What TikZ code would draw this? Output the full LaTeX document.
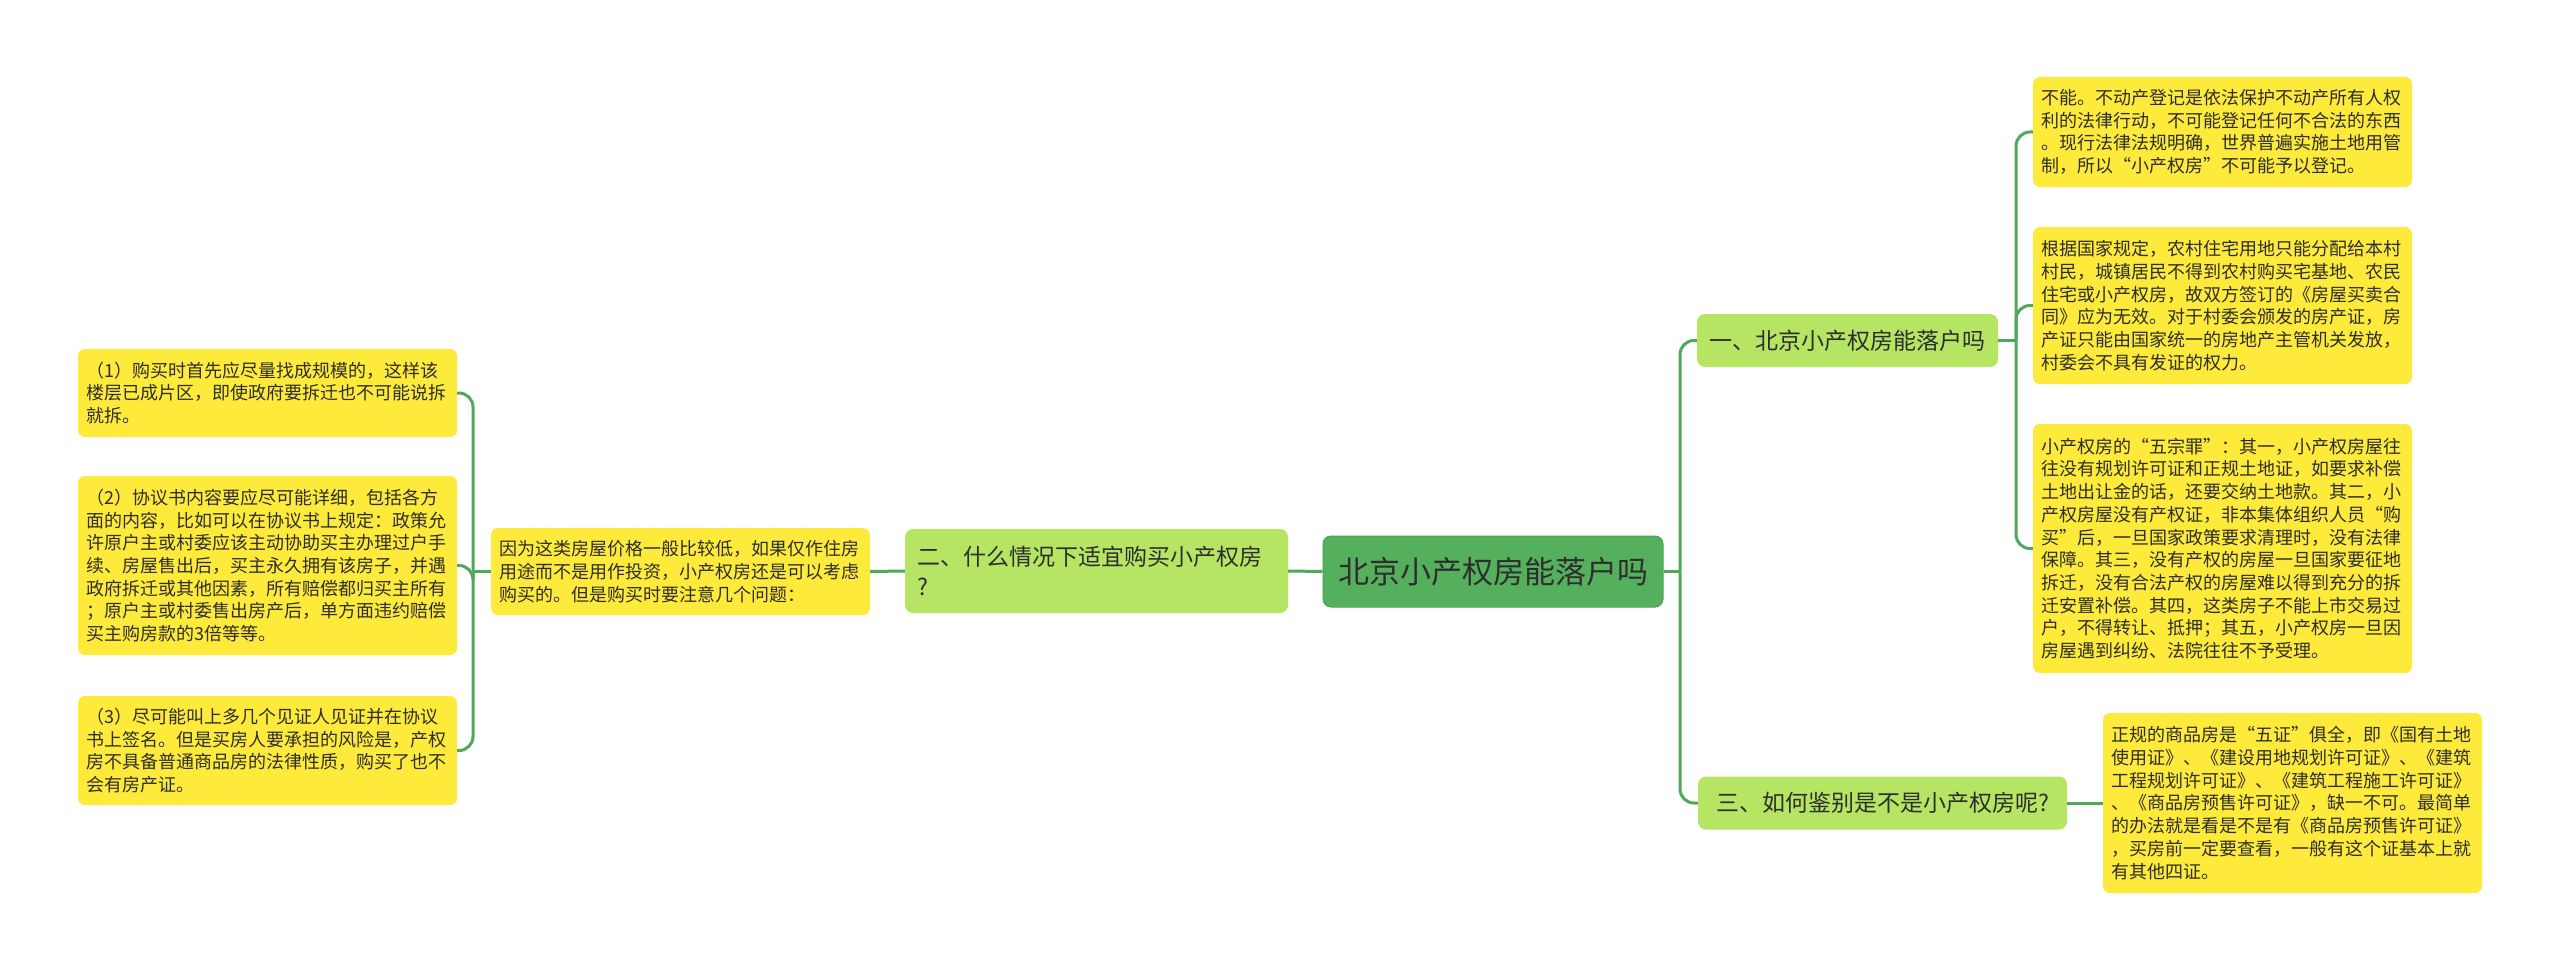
\documentclass[tikz,border=0pt]{standalone}
\usepackage{fontspec}
\setmainfont{Noto Sans CJK SC}
\definecolor{rootg}{HTML}{55B05D}
\definecolor{rootb}{HTML}{4AA352}
\definecolor{lvone}{HTML}{B5E563}
\definecolor{yel}{HTML}{FDEA3A}
\definecolor{conn}{HTML}{50A85A}
\definecolor{txt}{HTML}{2E2E2E}
\tikzset{
  yelbox/.style={fill=yel, rounded corners=7pt, text=txt, align=left,
    inner xsep=8.5pt, inner ysep=2pt, text width=362pt,
    font=\fontsize{18}{22.7}\selectfont},
  lvbox/.style={fill=lvone, rounded corners=8pt, text=txt, align=left,
    inner xsep=11pt, inner ysep=2pt, font=\fontsize{23}{30}\selectfont},
  rootbox/.style={fill=rootg, draw=rootb, line width=1pt, rounded corners=8pt, text=txt,
    inner xsep=14pt, inner ysep=2pt, font=\fontsize{31}{36}\selectfont},
  link/.style={draw=conn, line width=3pt},
  elbowlink/.style={link, rounded corners=14pt}
}
\begin{document}
\begin{tikzpicture}[x=1pt,y=-1pt]
\useasboundingbox (0,0) rectangle (2560,971);
\fill[white] (0,0) rectangle (2560,971);

% root
\node[rootbox, minimum width=340pt, minimum height=71pt] (root) at (1493,571.5) {北京小产权房能落户吗};

% level one
\node[lvbox, minimum width=301pt, minimum height=53pt] (n1) at (1847.5,340.5) {一、北京小产权房能落户吗};
\node[lvbox, minimum width=369pt, minimum height=53pt] (n3) at (1882.5,803) {三、如何鉴别是不是小产权房呢?};
\node[lvbox, text width=359pt, inner xsep=12pt, minimum height=84pt] (n2) at (1096.5,571) {二、什么情况下适宜购买小产权房\\?};

% right yellow boxes
\node[yelbox, minimum height=110pt] (r1) at (2222.5,132) {不能。不动产登记是依法保护不动产所有人权\\利的法律行动，不可能登记任何不合法的东西\\。现行法律法规明确，世界普遍实施土地用管\\制，所以“小产权房”不可能予以登记。};
\node[yelbox, minimum height=157pt] (r2) at (2222.5,305.5) {根据国家规定，农村住宅用地只能分配给本村\\村民，城镇居民不得到农村购买宅基地、农民\\住宅或小产权房，故双方签订的《房屋买卖合\\同》应为无效。对于村委会颁发的房产证，房\\产证只能由国家统一的房地产主管机关发放，\\村委会不具有发证的权力。};
\node[yelbox, minimum height=249pt] (r3) at (2222.5,548.5) {小产权房的“五宗罪”：其一，小产权房屋往\\往没有规划许可证和正规土地证，如要求补偿\\土地出让金的话，还要交纳土地款。其二，小\\产权房屋没有产权证，非本集体组织人员“购\\买”后，一旦国家政策要求清理时，没有法律\\保障。其三，没有产权的房屋一旦国家要征地\\拆迁，没有合法产权的房屋难以得到充分的拆\\迁安置补偿。其四，这类房子不能上市交易过\\户，不得转让、抵押；其五，小产权房一旦因\\房屋遇到纠纷、法院往往不予受理。};
\node[yelbox, minimum height=180pt] (r4) at (2292.5,803) {正规的商品房是“五证”俱全，即《国有土地\\使用证》、《建设用地规划许可证》、《建筑\\工程规划许可证》、《建筑工程施工许可证》\\、《商品房预售许可证》，缺一不可。最简单\\的办法就是看是不是有《商品房预售许可证》\\，买房前一定要查看，一般有这个证基本上就\\有其他四证。};

% left yellow boxes
\node[yelbox, minimum height=87pt] (m1) at (680.5,571.5) {因为这类房屋价格一般比较低，如果仅作住房\\用途而不是用作投资，小产权房还是可以考虑\\购买的。但是购买时要注意几个问题：};
\node[yelbox, minimum height=88pt] (l1) at (267.5,393) {（1）购买时首先应尽量找成规模的，这样该\\楼层已成片区，即使政府要拆迁也不可能说拆\\就拆。};
\node[yelbox, minimum height=179pt] (l2) at (267.5,565.5) {（2）协议书内容要应尽可能详细，包括各方\\面的内容，比如可以在协议书上规定：政策允\\许原户主或村委应该主动协助买主办理过户手\\续、房屋售出后，买主永久拥有该房子，并遇\\政府拆迁或其他因素，所有赔偿都归买主所有\\；原户主或村委售出房产后，单方面违约赔偿\\买主购房款的3倍等等。};
\node[yelbox, minimum height=109pt] (l3) at (267.5,750.5) {（3）尽可能叫上多几个见证人见证并在协议\\书上签名。但是买房人要承担的风险是，产权\\房不具备普通商品房的法律性质，购买了也不\\会有房产证。};

% connectors
\coordinate (s1) at (1680,571.5);
\coordinate (s2) at (2016,340.5);
\coordinate (s3) at (473,571.5);
\draw[link] (root.east) -- (s1);
\draw[elbowlink] (s1) |- (n1.west);
\draw[elbowlink] (s1) |- (n3.west);
\draw[link] (n1.east) -- (s2);
\draw[elbowlink] (s2) |- (r1.west);
\draw[elbowlink] (s2) |- (r2.west);
\draw[elbowlink] (s2) |- (r3.west);
\draw[link] (n3.east) -- (r4.west);
\draw[link] (root.west) -- (n2.east);
\draw[link] (n2.west) -- (m1.east);
\draw[link] (m1.west) -- (s3);
\draw[elbowlink] (s3) |- (l1.east);
\draw[elbowlink] (s3) |- (l2.east);
\draw[elbowlink] (s3) |- (l3.east);
\end{tikzpicture}
\end{document}
